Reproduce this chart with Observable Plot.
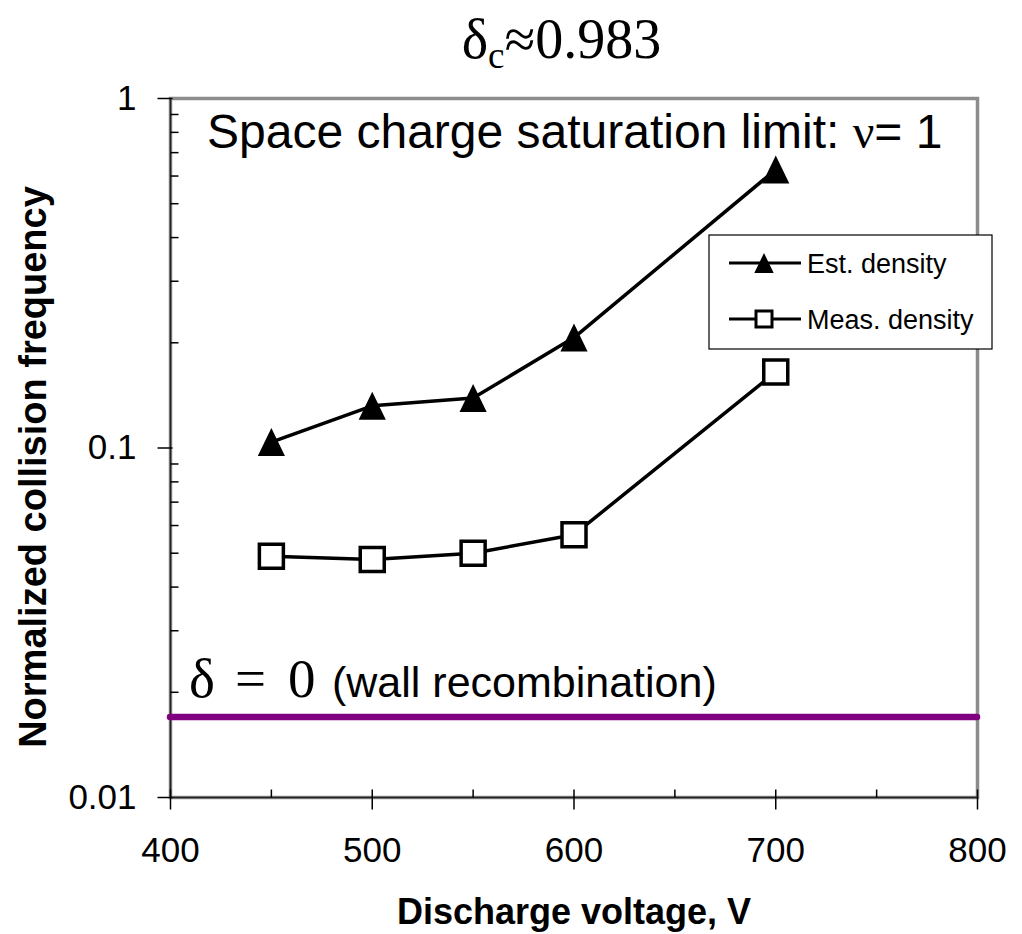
<!DOCTYPE html>
<html>
<head>
<meta charset="utf-8">
<script src="https://cdn.jsdelivr.net/npm/d3@7"></script>
<script src="https://cdn.jsdelivr.net/npm/@observablehq/plot@0.6"></script>
<style>
  html, body { margin: 0; padding: 0; background: #fff; }
</style>
</head>
<body>
<div id="chart"></div>
<script>
// ---- data ----
const voltage = [450, 500, 550, 600, 700];
const estDensity = [0.104, 0.132, 0.139, 0.207, 0.626];
const measDensity = [0.049, 0.048, 0.050, 0.0565, 0.165];
const wallRecombination = [0.017];
const xTicks = [400, 500, 600, 700, 800];
const xMinorTicks = [450, 550, 650, 750];
const yTicks = [0.01, 0.1, 1];
const yMinorTicks = [0.02, 0.03, 0.04, 0.05, 0.06, 0.07, 0.08, 0.09, 0.2, 0.3, 0.4, 0.5, 0.6, 0.7, 0.8, 0.9];
const seriesNames = ["Est. density", "Meas. density"];
const titleParts = ["δ", "c", "≈0.983"];
const topNote = ["Space charge saturation limit: ", "ν", "= 1"];
const wallNote = ["δ = 0", "(wall recombination)"];
const xLabel = "Discharge voltage, V";
const yLabel = "Normalized collision frequency";

const est = voltage.map((v, i) => ({v, y: estDensity[i]}));
const meas = voltage.map((v, i) => ({v, y: measDensity[i]}));

// ---- custom symbols ----
const triSym = {draw(ctx, size) { const r = Math.sqrt(size / Math.PI); ctx.moveTo(0, -r); ctx.lineTo(r * 0.97, r); ctx.lineTo(-r * 0.97, r); ctx.closePath(); }};
const sqSym = {draw(ctx, size) { const r = Math.sqrt(size / Math.PI); ctx.rect(-r, -r, 2 * r, 2 * r); }};
const tickYMajor = {draw(ctx) { ctx.moveTo(-13, 0); ctx.lineTo(2, 0); }};
const tickYMinor = {draw(ctx) { ctx.moveTo(0, 0); ctx.lineTo(8, 0); }};
const tickXMajor = {draw(ctx) { ctx.moveTo(0, -8); ctx.lineTo(0, 12); }};
const tickXMinor = {draw(ctx) { ctx.moveTo(0, -8); ctx.lineTo(0, 0); }};

const SANS = "'Liberation Sans', Arial, sans-serif";
const SERIF = "'Liberation Serif', 'Times New Roman', serif";

const chart = Plot.plot({
  width: 1022,
  height: 934,
  marginLeft: 170,
  marginRight: 45,
  marginTop: 98,
  marginBottom: 137,
  style: {fontFamily: SANS, fontSize: "35px", background: "#fff", color: "#000", overflow: "visible"},
  x: {domain: [400, 800]},
  y: {type: "log", domain: [0.01, 1]},
  marks: [
    Plot.frame({stroke: "#8c8c8c", strokeWidth: 3.5}),
    Plot.ruleX([400], {stroke: "#222", strokeWidth: 1.5}),
    Plot.ruleY([0.01], {stroke: "#222", strokeWidth: 1.5}),
    Plot.dot(yTicks, {x: () => 400, y: d => d, symbol: tickYMajor, r: 1, fill: "none", stroke: "#000", strokeWidth: 1.5}),
    Plot.dot(yMinorTicks, {x: () => 400, y: d => d, symbol: tickYMinor, r: 1, fill: "none", stroke: "#000", strokeWidth: 1.5}),
    Plot.dot(xTicks, {x: d => d, y: () => 0.01, symbol: tickXMajor, r: 1, fill: "none", stroke: "#000", strokeWidth: 1.5}),
    Plot.dot(xMinorTicks, {x: d => d, y: () => 0.01, symbol: tickXMinor, r: 1, fill: "none", stroke: "#000", strokeWidth: 1.5}),
    Plot.ruleY(wallRecombination, {stroke: "#800080", strokeWidth: 6.5, strokeLinecap: "round"}),
    Plot.line(est, {x: "v", y: "y", stroke: "#000", strokeWidth: 3.5}),
    Plot.dot(est, {x: "v", y: "y", symbol: triSym, r: 14, fill: "#000", stroke: "none"}),
    Plot.line(meas, {x: "v", y: "y", stroke: "#000", strokeWidth: 3.5}),
    Plot.dot(meas, {x: "v", y: "y", symbol: sqSym, r: 12, fill: "#fff", stroke: "#000", strokeWidth: 3.5}),
    Plot.axisX({ticks: xTicks, tickSize: 0, tickPadding: 40, tickFormat: d => String(d), label: null, fontSize: 35}),
    Plot.axisY({ticks: yTicks, tickSize: 0, tickPadding: 34, tickFormat: d => String(d), label: null, fontSize: 35}),
    Plot.text([xLabel], {frameAnchor: "bottom", textAnchor: "middle", lineAnchor: "bottom", dy: 126, fontSize: 36, fontWeight: "bold", fill: "#000"}),
    Plot.text([yLabel], {frameAnchor: "left", textAnchor: "middle", lineAnchor: "bottom", rotate: -90, dx: -125, dy: 19, fontSize: 38, fontWeight: "bold", fill: "#000"})
  ]
});

document.getElementById("chart").appendChild(chart);

// ---- annotations & legend (positioned relative to the scales) ----
const X = chart.scale("x"), Y = chart.scale("y");
const frameLeft = X.apply(400), frameRight = X.apply(800), frameTop = Y.apply(1);
const svg = d3.select(chart);

// title
const t = svg.append("text").attr("x", (frameLeft + frameRight) / 2 - 12).attr("y", frameTop - 40)
  .attr("text-anchor", "middle").attr("font-family", SERIF).attr("font-size", 56).attr("fill", "#000");
t.append("tspan").text(titleParts[0]);
t.append("tspan").attr("font-size", 37).attr("dy", 10).text(titleParts[1]);
t.append("tspan").attr("dy", -10).text(titleParts[2]);

// top note
const n = svg.append("text").attr("x", frameLeft + 37).attr("y", frameTop + 50)
  .attr("text-anchor", "start").attr("font-family", SANS).attr("font-size", 48).attr("fill", "#000");
n.append("tspan").text(topNote[0]);
n.append("tspan").attr("font-family", SERIF).text(topNote[1]);
n.append("tspan").text(topNote[2]);

// wall recombination note: equation-style "δ = 0" with wide relation spacing
const wy = Y.apply(wallRecombination[0]);
const eq = svg.append("text").attr("y", wy - 19).attr("text-anchor", "start")
  .attr("font-family", SERIF).attr("font-size", 55).attr("fill", "#000");
const eqParts = wallNote[0].split(" ");
const eqOffsets = [19, 65, 118];
eqParts.forEach((p, i) => eq.append("tspan").attr("x", frameLeft + eqOffsets[i]).text(p));
svg.append("text").attr("x", frameLeft + 162).attr("y", wy - 19).attr("text-anchor", "start")
  .attr("font-family", SANS).attr("font-size", 43).attr("fill", "#000").text(wallNote[1]);

// legend
const lg = svg.append("g").attr("transform", `translate(${frameRight - 268},${frameTop + 137})`);
lg.append("rect").attr("x", 0).attr("y", 0).attr("width", 283).attr("height", 114)
  .attr("fill", "#fff").attr("stroke", "#000").attr("stroke-width", 1.2);
const rows = [
  {name: seriesNames[0], sym: triSym, r: 10, fill: "#000", stroke: "none", y: 28},
  {name: seriesNames[1], sym: sqSym, r: 8, fill: "#fff", stroke: "#000", y: 84}
];
for (const row of rows) {
  lg.append("line").attr("x1", 20).attr("x2", 92).attr("y1", row.y).attr("y2", row.y)
    .attr("stroke", "#000").attr("stroke-width", 3);
  lg.append("path").attr("transform", `translate(55,${row.y})`)
    .attr("d", d3.symbol(row.sym, row.r * row.r * Math.PI)())
    .attr("fill", row.fill).attr("stroke", row.stroke).attr("stroke-width", 3);
  lg.append("text").attr("x", 98).attr("y", row.y + 10).attr("text-anchor", "start")
    .attr("font-family", SANS).attr("font-size", 27).attr("fill", "#000").text(row.name);
}
</script>
</body>
</html>
